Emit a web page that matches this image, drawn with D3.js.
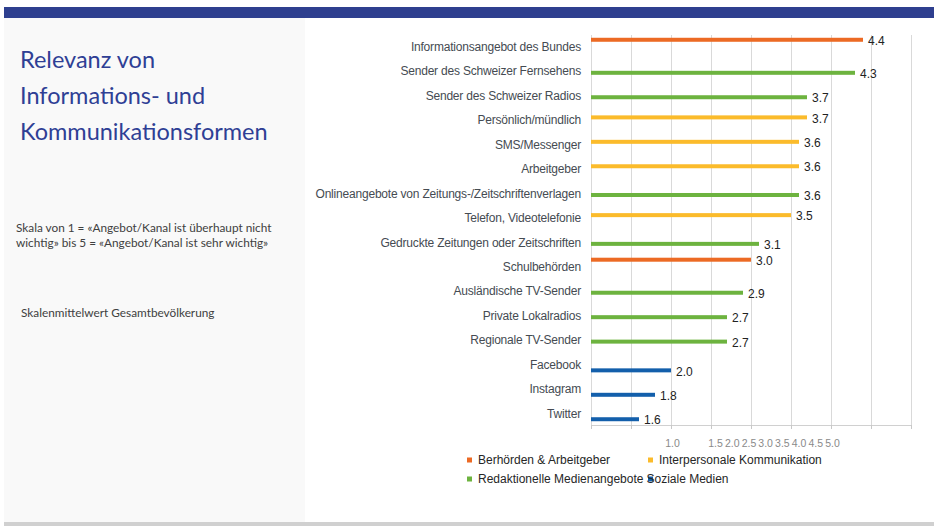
<!DOCTYPE html>
<html>
<head>
<meta charset="utf-8">
<script src="https://cdn.jsdelivr.net/npm/d3@7"></script>
<style>
  body { margin: 0; background: #fff; }
  svg { display: block; }
</style>
</head>
<body>
<script>
// categories top to bottom
const categories = [
  'Informationsangebot des Bundes',
  'Sender des Schweizer Fernsehens',
  'Sender des Schweizer Radios',
  'Persönlich/mündlich',
  'SMS/Messenger',
  'Arbeitgeber',
  'Onlineangebote von Zeitungs-/Zeitschriftenverlagen',
  'Telefon, Videotelefonie',
  'Gedruckte Zeitungen oder Zeitschriften',
  'Schulbehörden',
  'Ausländische  TV-Sender',
  'Private  Lokalradios',
  'Regionale TV-Sender',
  'Facebook',
  'Instagram',
  'Twitter'
]
const values = [4.4, 4.3, 3.7, 3.7, 3.6, 3.6, 3.6, 3.5, 3.1, 3.0, 2.9, 2.7, 2.7, 2.0, 1.8, 1.6]
// which series each category belongs to (index into seriesNames)
const seriesOf = [0, 2, 2, 1, 1, 1, 2, 1, 2, 0, 2, 2, 2, 3, 3, 3]
const seriesNames = ['Berhörden & Arbeitgeber', 'Interpersonale Kommunikation', 'Redaktionelle Medienangebote', 'Soziale Medien']
const seriesColors = ['#ec6a24', '#fbbb2b', '#6db33f', '#135fab']
const gridValues = [1.0, 1.5, 2.0, 2.5, 3.0, 3.5, 4.0, 4.5, 5.0]
const tickLabels = ['1.0', '1.5', '2.0', '2.5', '3.0', '3.5', '4.0', '4.5', '5.0']

const titleLines = ['Relevanz von', 'Informations- und', 'Kommunikationsformen']
const noteLines = ['Skala von 1 = «Angebot/Kanal ist überhaupt nicht', 'wichtig» bis 5 = «Angebot/Kanal ist sehr wichtig»']
const subNote = 'Skalenmittelwert Gesamtbevölkerung'

var w = 934
var h = 526
var plotTop = 34, plotBottom = 425, plotLeft = 591, plotRight = 911

var svg = d3.select('body').append('svg')
  .attr('width', w)
  .attr('height', h)

// page frame
svg.append('rect').attr('x', 4).attr('y', 7).attr('width', w - 4).attr('height', 11).attr('fill', '#2e3f8f')
svg.append('rect').attr('x', 4).attr('y', 18).attr('width', 301).attr('height', 504).attr('fill', '#f9f9f9')
svg.append('rect').attr('x', 4).attr('y', 522).attr('width', w - 4).attr('height', 4).attr('fill', '#d0d0d0')

// left text
svg.append('g').selectAll('text')
  .data(titleLines)
  .enter()
  .append('text')
  .attr('x', 20)
  .attr('y', (d, i) => 68 + i * 36)
  .attr('font-family', 'Lato, sans-serif')
  .attr('font-size', '23.5px')
  .attr('fill', '#2f3f95')
  .text(d => d)

svg.append('g').selectAll('text')
  .data(noteLines)
  .enter()
  .append('text')
  .attr('x', 16)
  .attr('y', (d, i) => 232 + i * 14.5)
  .attr('font-family', 'Lato, sans-serif')
  .attr('font-size', '11.8px')
  .attr('fill', '#404040')
  .text(d => d)

svg.append('text')
  .attr('x', 21)
  .attr('y', 317)
  .attr('font-family', 'Lato, sans-serif')
  .attr('font-size', '11.8px')
  .attr('fill', '#404040')
  .text(subNote)

// scales
var xScale = d3.scaleLinear()
  .domain([1, 5])
  .range([plotLeft, plotRight])

var yScale = d3.scaleBand()
  .domain(categories)
  .range([plotTop, plotBottom])

var slotScale = d3.scaleBand()
  .domain(d3.range(seriesNames.length))
  .range([-8.6, 8.6])

// the misplaced value labels under the plot
var labelScale = d3.scaleLinear()
  .domain([1, 1.5, 5])
  .range([672, 715, 832])

// gridlines
var grid = svg.append('g')
  .attr('transform', `translate(0, ${plotBottom})`)
  .call(d3.axisBottom(xScale).tickValues(gridValues).tickSize(-(plotBottom - 35)).tickFormat(''))
grid.select('.domain').remove()
grid.selectAll('line').attr('stroke', '#d9d9d9')

// bottom axis with little tick marks
var xAxis = svg.append('g')
  .attr('transform', `translate(0, ${plotBottom})`)
  .call(d3.axisBottom(xScale).tickValues(gridValues).tickSize(4).tickSizeOuter(0).tickFormat(''))
xAxis.select('.domain').attr('stroke', '#d0d0d0')
xAxis.selectAll('line').attr('stroke', '#c8c8c8')

var labelAxis = svg.append('g')
  .attr('transform', `translate(0, ${plotBottom + 12})`)
  .call(d3.axisBottom(labelScale).tickValues(gridValues).tickSize(0).tickFormat((d, i) => tickLabels[i]))
labelAxis.select('.domain').remove()
labelAxis.selectAll('text')
  .attr('font-family', 'Liberation Sans, Arial, sans-serif')
  .attr('font-size', '10.5px')
  .attr('fill', '#8a8a8a')

// category labels
svg.append('g').selectAll('text')
  .data(categories)
  .enter()
  .append('text')
  .attr('x', plotLeft - 10)
  .attr('y', d => yScale(d) + yScale.bandwidth() / 2)
  .attr('dy', '0.4em')
  .attr('text-anchor', 'end')
  .attr('font-family', 'Liberation Sans, Arial, sans-serif')
  .attr('font-size', '12px')
  .attr('letter-spacing', '-0.2px')
  .attr('fill', '#454b52')
  .text(d => d)

var barY = (d, i) => yScale(d) + yScale.bandwidth() / 2 + slotScale(seriesOf[i]) + slotScale.bandwidth() / 2

// bars
svg.append('g').selectAll('rect')
  .data(categories)
  .enter()
  .append('rect')
  .attr('x', xScale(1))
  .attr('y', (d, i) => barY(d, i) - 2)
  .attr('width', (d, i) => xScale(values[i]) - xScale(1))
  .attr('height', 4)
  .attr('fill', (d, i) => seriesColors[seriesOf[i]])

// value labels
svg.append('g').selectAll('text')
  .data(categories)
  .enter()
  .append('text')
  .attr('x', (d, i) => xScale(values[i]) + 5)
  .attr('y', (d, i) => barY(d, i) + 1)
  .attr('dy', '0.35em')
  .attr('font-family', 'Liberation Sans, Arial, sans-serif')
  .attr('font-size', '12px')
  .attr('fill', '#222')
  .text((d, i) => values[i].toFixed(1))

// legend, two per row; text runs on after the previous one when that one is too long
var legend = svg.append('g')
var prevEnd = 0
seriesNames.forEach(function (name, i) {
  var col = i % 2, row = Math.floor(i / 2)
  var sx = col === 0 ? 467 : 648
  var cy = 460 + row * 19
  if (col === 0) prevEnd = 0
  legend.append('rect')
    .attr('x', sx)
    .attr('y', cy - 2.5)
    .attr('width', 5)
    .attr('height', 5)
    .attr('fill', seriesColors[i])
  var tx = prevEnd > sx - 10 ? prevEnd + 3 : sx + 11
  var t = legend.append('text')
    .attr('x', tx)
    .attr('y', cy)
    .attr('dy', '0.35em')
    .attr('font-family', 'Liberation Sans, Arial, sans-serif')
    .attr('font-size', '12px')
    .attr('fill', '#262626')
    .text(name)
  prevEnd = tx + t.node().getComputedTextLength()
})
</script>
</body>
</html>
